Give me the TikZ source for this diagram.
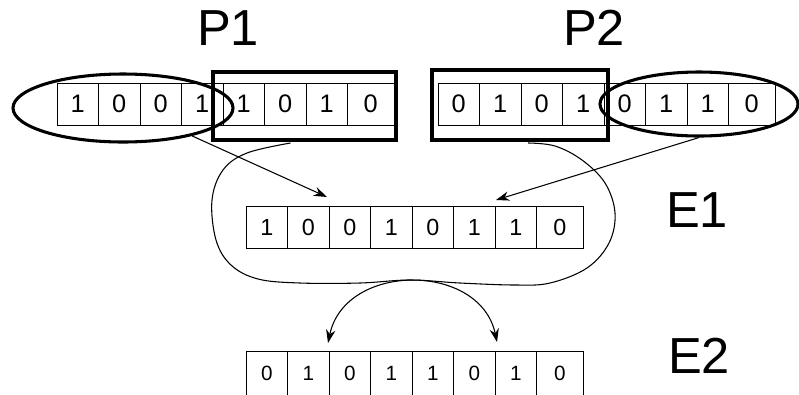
\documentclass[tikz,border=0pt]{standalone}
\usepackage{fontspec}
\setmainfont{Liberation Sans}
\usetikzlibrary{arrows.meta,calc,shapes.geometric}
\tikzset{>={Stealth[length=10pt,width=7pt]}}
\tikzset{
  cell/.style={draw, rectangle, inner sep=0pt, outer sep=0pt, anchor=west},
  selbox/.style={draw, line width=3pt, rectangle, inner sep=0pt},
  selell/.style={draw, line width=2.3pt, ellipse, inner sep=0pt},
  lbl/.style={font=\fontsize{38}{40}\selectfont, inner sep=0pt},
  link/.style={->, line width=0.8pt},
}

\begin{document}
\begin{tikzpicture}[x=0.75pt, y=-0.75pt]
\useasboundingbox (0,0) rectangle (799,394);
\clip (0,0) rectangle (799,394);

% bit strings
\foreach \r/\x/\y/\h/\f/\bits in {p1/57/104/31.5/19/{1,0,0,1,1,0,1,0},
    p2/438/104/31.5/19/{0,1,0,1,0,1,1,0},
    e1/246/227/31.5/17.5/{1,0,0,1,0,1,1,0},
    e2/246/373/33/15.5/{0,1,0,1,1,0,1,0}}{
  \foreach \b [count=\i] in \bits {
    \pgfmathsetmacro\w{\i<8 ? 31.125 : 34.875}
    \node[cell, minimum width=\w pt, minimum height=\h pt,
      font=\fontsize{\f}{\f}\selectfont] (\r-\i) at ({\x+41.5*(\i-1)},\y) {\b};
  }
}

% labels
\node[lbl] (lp1) at (228,28) {P1};
\node[lbl] (lp2) at (594,28) {P2};
\node[lbl] (le1) at (697,210) {E1};
\node[lbl] (le2) at (699,356) {E2};

% selected halves
\node[selell, minimum width=165pt, minimum height=51pt] (ell1) at (123,108) {};
\node[selbox, minimum width=137.25pt, minimum height=51pt] (box1) at (304.5,106) {};
\node[selbox, minimum width=132pt, minimum height=52.5pt] (box2) at (520,105) {};
\node[selell, minimum width=148.5pt, minimum height=48pt] (ell2) at (699,104) {};

% crossover
\coordinate (t1) at ($(e1-2.north east)+(-2,-9)$);
\coordinate (t2) at ($(e1-6.north east)+(1,-6)$);
\draw[link] (ell1.-22) -- (t1);
\draw[link] (ell2.south) -- (t2);

% rest of the parents
\coordinate (b1) at ($(box1.south)+(-14,1)$);
\coordinate (b2) at ($(box2.south)+(8,1)$);
\draw[line width=0.8pt] plot[smooth, tension=0.6] coordinates {(b1) (247,153)
  (223,170) (212,200) (216,240) (231,265) (258,279) (300,283) (360,283)
  (410,280) (460,283) (515,285) (550,283) (587,268) (609,243) (615,213)
  (605,183) (582,160) (555,146) (b2)};

% mutation
\coordinate (a1) at ($(e2-2.north east)+(-1,-8)$);
\coordinate (a2) at ($(e2-6.north east)+(2,-9)$);
\draw[link, <->] (a1) .. controls +(17,-81) and +(-17,-80) .. (a2);
\end{tikzpicture}
\end{document}
